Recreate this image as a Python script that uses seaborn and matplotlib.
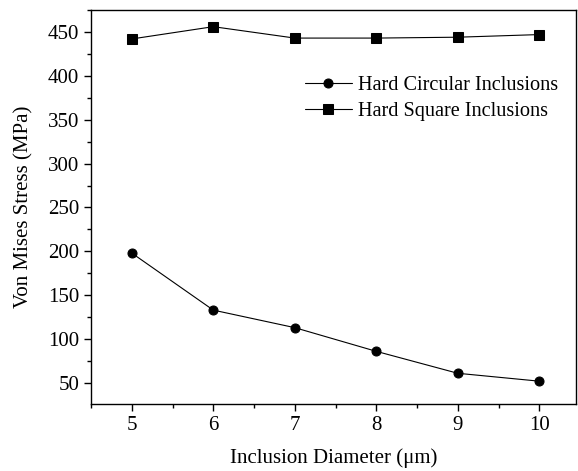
import matplotlib
matplotlib.use("Agg")
import matplotlib.pyplot as plt
import seaborn as sns
import pandas as pd
from matplotlib.ticker import MultipleLocator, AutoMinorLocator

diameters = [5, 6, 7, 8, 9, 10]
circular = [198, 133, 113, 86, 61, 52]
square = [442, 456, 443, 443, 444, 447]
series_names = ["Hard Circular Inclusions", "Hard Square Inclusions"]

df = pd.DataFrame({
    "d": diameters * 2,
    "s": circular + square,
    "series": [series_names[0]] * len(diameters) + [series_names[1]] * len(diameters),
})

sns.set_theme(style="ticks")
plt.rcParams["font.family"] = ["Liberation Serif", "DejaVu Serif"]
plt.rcParams["mathtext.fontset"] = "stix"
plt.rcParams["text.color"] = "black"
plt.rcParams["axes.labelcolor"] = "black"

fig = plt.figure(figsize=(5.78, 4.71), dpi=100)
ax = fig.add_axes([91/578, 1 - 404/471, (576-91)/578, (404-10)/471])

sns.lineplot(data=df, x="d", y="s", hue="series", style="series",
             markers={series_names[0]: "o", series_names[1]: "s"}, dashes=False,
             palette={series_names[0]: "black", series_names[1]: "black"},
             linewidth=0.8, markersize=6.5, markeredgecolor="black", ax=ax)

ax.set_xlim(4.5, 10.45)
ax.set_ylim(26, 475)
ax.xaxis.set_major_locator(MultipleLocator(1))
ax.xaxis.set_minor_locator(AutoMinorLocator(2))
ax.yaxis.set_major_locator(MultipleLocator(50))
ax.yaxis.set_minor_locator(AutoMinorLocator(2))
ax.tick_params(which="major", direction="out", length=5, width=1, labelsize=15, color="black", labelcolor="black")
ax.tick_params(which="minor", direction="out", length=3, width=1, color="black")
for sp in ax.spines.values():
    sp.set_color("black")
    sp.set_linewidth(1)
    sp.set_visible(True)

ax.set_xlabel("Inclusion Diameter (μm)", fontsize=15, labelpad=10, color="black")
ax.set_ylabel("Von Mises Stress (MPa)", fontsize=15, labelpad=10, color="black")

leg = ax.legend(loc="upper right", bbox_to_anchor=(1.0, 0.88), frameon=False, fontsize=14.6,
                handlelength=2.3, handletextpad=0.3, labelspacing=0.35)
for t in leg.get_texts():
    t.set_color("black")

fig.savefig("out.png", dpi=100)
